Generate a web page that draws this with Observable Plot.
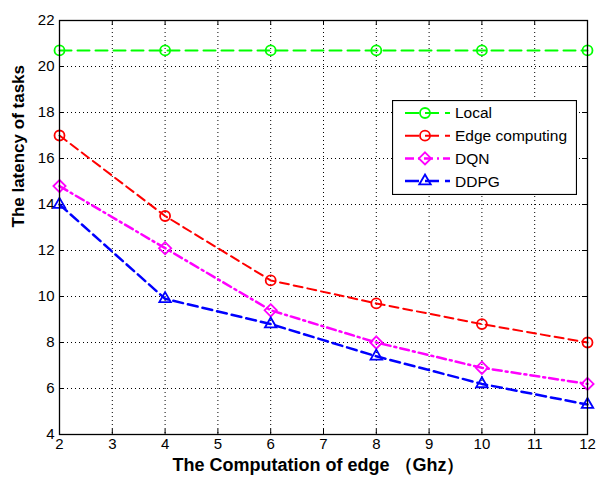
<!DOCTYPE html>
<html><head><meta charset="utf-8">
<script src="https://cdn.jsdelivr.net/npm/d3@7"></script>
<script src="https://cdn.jsdelivr.net/npm/@observablehq/plot@0.6"></script>
<style>
body{margin:0;background:#fff;}
#wrap{position:relative;width:596px;height:482px;}
#legend{position:absolute;left:392px;top:100px;}
svg{font-family:"Liberation Sans",Arial,sans-serif;}
</style></head>
<body><div id="wrap"></div>
<script>
const xs = [2, 4, 6, 8, 10, 12];
const local = [20.7, 20.7, 20.7, 20.7, 20.7, 20.7];
const edge = [17.0, 13.5, 10.7, 9.7, 8.8, 8.0];
const dqn = [14.8, 12.1, 9.4, 8.0, 6.9, 6.2];
const ddpg = [14.0, 9.9, 8.8, 7.4, 6.2, 5.3];
const xTicks = [2,3,4,5,6,7,8,9,10,11,12];
const yTicks = [4,6,8,10,12,14,16,18,20,22];
const seriesNames = ["Local", "Edge computing", "DQN", "DDPG"];
const xLabel = "The Computation of edge （Ghz）";
const yLabel = "The latency of tasks";

const series = [
  {name: seriesNames[0], vals: local, color: "#00ff00", dash: "12,6", sw: 2, symbol: "circle", r: 5},
  {name: seriesNames[1], vals: edge, color: "#ff0000", dash: "9,5", sw: 2, symbol: "circle", r: 5},
  {name: seriesNames[2], vals: dqn, color: "#ff00ff", dash: "9,4,2,4", sw: 2.5, symbol: "diamond2", r: 5.5},
  {name: seriesNames[3], vals: ddpg, color: "#0000ff", dash: "10,5", sw: 2.5, symbol: "triangle2", r: 5.5}
];

const W = 596, H = 482, mL = 59, mR = 9, mT = 20, mB = 48;
const ph = H - mT - mB, pw = W - mL - mR;

const marks = [
  Plot.gridX(xTicks, {stroke: "#000", strokeOpacity: 1, strokeDasharray: "1,3"}),
  Plot.gridY(yTicks, {stroke: "#000", strokeOpacity: 1, strokeDasharray: "1,3"}),
  Plot.tickX(xTicks, {x: d => d, insetTop: ph - 5, stroke: "#000"}),
  Plot.tickX(xTicks, {x: d => d, insetBottom: ph - 5, stroke: "#000"}),
  Plot.tickY(yTicks, {y: d => d, insetRight: pw - 5, stroke: "#000"}),
  Plot.tickY(yTicks, {y: d => d, insetLeft: pw - 5, stroke: "#000"}),
  Plot.axisX(xTicks, {tickSize: 0, tickPadding: 4, fontSize: 15, label: null, fill: "#000"}),
  Plot.axisY(yTicks, {tickSize: 0, tickPadding: 5, fontSize: 15, label: null, fill: "#000"}),
];
for (const s of series) {
  const data = xs.map((x, i) => ({x, y: s.vals[i]}));
  marks.push(Plot.line(data, {x: "x", y: "y", stroke: s.color, strokeWidth: s.sw, strokeDasharray: s.dash}));
  marks.push(Plot.dot(data, {x: "x", y: "y", stroke: s.color, fill: "none", strokeWidth: 1.8, symbol: s.symbol, r: s.r}));
}
marks.push(Plot.frame({stroke: "#000", strokeWidth: 1.3}));
marks.push(Plot.text([xLabel], {frameAnchor: "bottom", dy: 36, fontSize: 18, fontWeight: "bold", fill: "#000", dx: -5}));
marks.push(Plot.text([yLabel], {frameAnchor: "left", rotate: -90, dx: -41, fontSize: 17, fontWeight: "bold", fill: "#000"}));

const chart = Plot.plot({
  width: W, height: H,
  marginLeft: mL, marginRight: mR, marginTop: mT, marginBottom: mB,
  x: {domain: [2, 12]},
  y: {domain: [4, 22]},
  style: {fontFamily: '"Liberation Sans", Arial, sans-serif', color: "#000", background: "#fff"},
  marks
});
document.getElementById("wrap").appendChild(chart);

// legend overlay
const lw = 185, lh = 95;
const lg = d3.select("#wrap").append("div").attr("id", "legend")
  .append("svg").attr("width", lw).attr("height", lh);
lg.append("rect").attr("x", 0.5).attr("y", 0.5).attr("width", lw - 1).attr("height", lh - 1)
  .attr("fill", "#fff").attr("stroke", "#000").attr("stroke-width", 1.2);
series.forEach((s, i) => {
  const cy = 13 + i * 22.7;
  const g = lg.append("g");
  g.append("line").attr("x1", 13).attr("x2", 58).attr("y1", cy).attr("y2", cy)
    .attr("stroke", s.color).attr("stroke-width", s.sw)
    .attr("stroke-dasharray", i === 2 ? "9,4,2,4" : "14,6");
  const sym = {circle: d3.symbolCircle, diamond2: d3.symbolDiamond2, triangle2: d3.symbolTriangle2}[s.symbol];
  g.append("path").attr("d", d3.symbol(sym, Math.PI * s.r * s.r)())
    .attr("transform", `translate(33,${cy})`).attr("fill", "none").attr("stroke", s.color).attr("stroke-width", 1.8);
  g.append("text").attr("x", 63).attr("y", cy).attr("dy", "0.35em").attr("font-size", 15.5).attr("fill", "#000").text(s.name);
});
</script></body></html>
